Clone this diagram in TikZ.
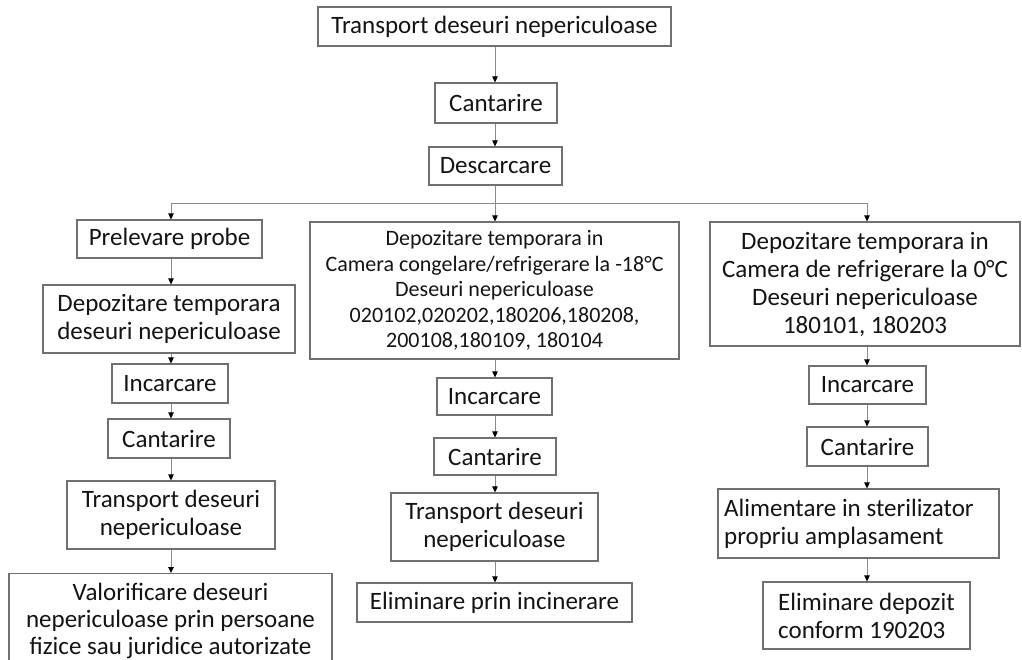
\documentclass[tikz,border=0pt]{standalone}
\usepackage{fontspec}
\setmainfont{Carlito}
\usetikzlibrary{arrows.meta}
\definecolor{boxgray}{HTML}{707070}
\definecolor{linegray}{HTML}{8A8A8A}
\definecolor{textc}{HTML}{141414}
\begin{document}
\begin{tikzpicture}[x=1pt,y=-1pt,
  box/.style={draw=boxgray, line width=1.2pt, inner sep=0pt, align=center, text=textc,
    font=\fontsize{25}{28}\selectfont},
  boxl/.style={box, align=left},
  small/.style={font=\fontsize{22}{25.5}\selectfont},
  conn/.style={draw=linegray, line width=0.9pt},
  arr/.style={conn, -{Triangle[length=6pt,width=5.5pt,fill=black,color=black]}}]
\clip (0,0) rectangle (1022,659);
\fill[white] (0,0) rectangle (1022,659);
% top
\node[box, minimum width=353pt, minimum height=39pt] (top) at (494.5,26.5) {Transport deseuri nepericuloase};
\node[box, minimum width=122pt, minimum height=40pt] (can) at (496,103) {Cantarire};
\node[box, minimum width=133pt, minimum height=38pt] (desc) at (495.5,166) {Descarcare};
% column x
\coordinate (xl) at (171,0);
\coordinate (xm) at (495,0);
\coordinate (xr) at (867,0);
\coordinate (split) at (495,203);
% left column
\node[box, minimum width=185pt, minimum height=38pt] (l1) at (169.5,239) {Prelevare probe};
\node[box, minimum width=252pt, minimum height=68pt] (l2) at (169,319) {Depozitare temporara\\deseuri nepericuloase};
\node[box, minimum width=116pt, minimum height=39pt] (l3) at (170,383.5) {Incarcare};
\node[box, minimum width=122pt, minimum height=39pt] (l4) at (169,438.5) {Cantarire};
\node[box, minimum width=208pt, minimum height=68pt] (l5) at (171,515) {Transport deseuri\\nepericuloase};
\node[box, font=\fontsize{25}{27}\selectfont, minimum width=323pt, minimum height=94pt, anchor=north] (l6) at (170.5,573) {Valorificare deseuri\\nepericuloase prin persoane\\fizice sau juridice autorizate};
% middle column
\node[box, small, minimum width=369pt, minimum height=137pt] (m1) at (494.5,290.5) {Depozitare temporara in\\Camera congelare/refrigerare la -18°C\\Deseuri nepericuloase\\020102,020202,180206,180208,\\200108,180109, 180104};
\node[box, minimum width=115pt, minimum height=37pt] (m2) at (494.5,396.5) {Incarcare};
\node[box, minimum width=122pt, minimum height=37pt] (m3) at (495,456.5) {Cantarire};
\node[box, minimum width=207pt, minimum height=68pt] (m4) at (494.5,527) {Transport deseuri\\nepericuloase};
\node[box, minimum width=275pt, minimum height=39pt] (m5) at (494.5,602.5) {Eliminare prin incinerare};
% right column
\node[box, minimum width=310pt, minimum height=124pt] (r1) at (865,284) {Depozitare temporara in\\Camera de refrigerare la 0°C\\Deseuri nepericuloase\\180101, 180203};
\node[box, minimum width=117pt, minimum height=38pt] (r2) at (867.5,385) {Incarcare};
\node[box, minimum width=121pt, minimum height=39pt] (r3) at (867.5,446.5) {Cantarire};
\node[boxl, minimum width=281pt, minimum height=69pt] (r4) at (858.5,523.5) {Alimentare in sterilizator\\propriu amplasament\hphantom{iorxx}};
\node[boxl, minimum width=207pt, minimum height=67pt] (r5) at (866.5,615.5) {Eliminare depozit\\conform 190203\hphantom{i}};
% connectors
\draw[arr] (top.south -| xm) -- (can.north -| xm);
\draw[arr] (can.south -| xm) -- (desc.north -| xm);
\draw[conn] (desc.south -| xm) -- (split);
\draw[conn] (split -| xl) -- (split -| xr);
\draw[arr] (split -| xl) -- (l1.north -| xl);
\draw[arr] (split) -- (m1.north -| xm);
\draw[arr] (split -| xr) -- (r1.north -| xr);
\draw[arr] (l1.south -| xl) -- (l2.north -| xl);
\draw[arr] (l2.south -| xl) -- (l3.north -| xl);
\draw[arr] (l3.south -| xl) -- (l4.north -| xl);
\draw[arr] (l4.south -| xl) -- (l5.north -| xl);
\draw[arr] (l5.south -| xl) -- (l6.north -| xl);
\draw[arr] (m1.south -| xm) -- (m2.north -| xm);
\draw[arr] (m2.south -| xm) -- (m3.north -| xm);
\draw[arr] (m3.south -| xm) -- (m4.north -| xm);
\draw[arr] (m4.south -| xm) -- (m5.north -| xm);
\draw[arr] (r1.south -| xr) -- (r2.north -| xr);
\draw[arr] (r2.south -| xr) -- (r3.north -| xr);
\draw[arr] (r3.south -| xr) -- (r4.north -| xr);
\draw[arr] (r4.south -| xr) -- (r5.north -| xr);
\end{tikzpicture}
\end{document}
